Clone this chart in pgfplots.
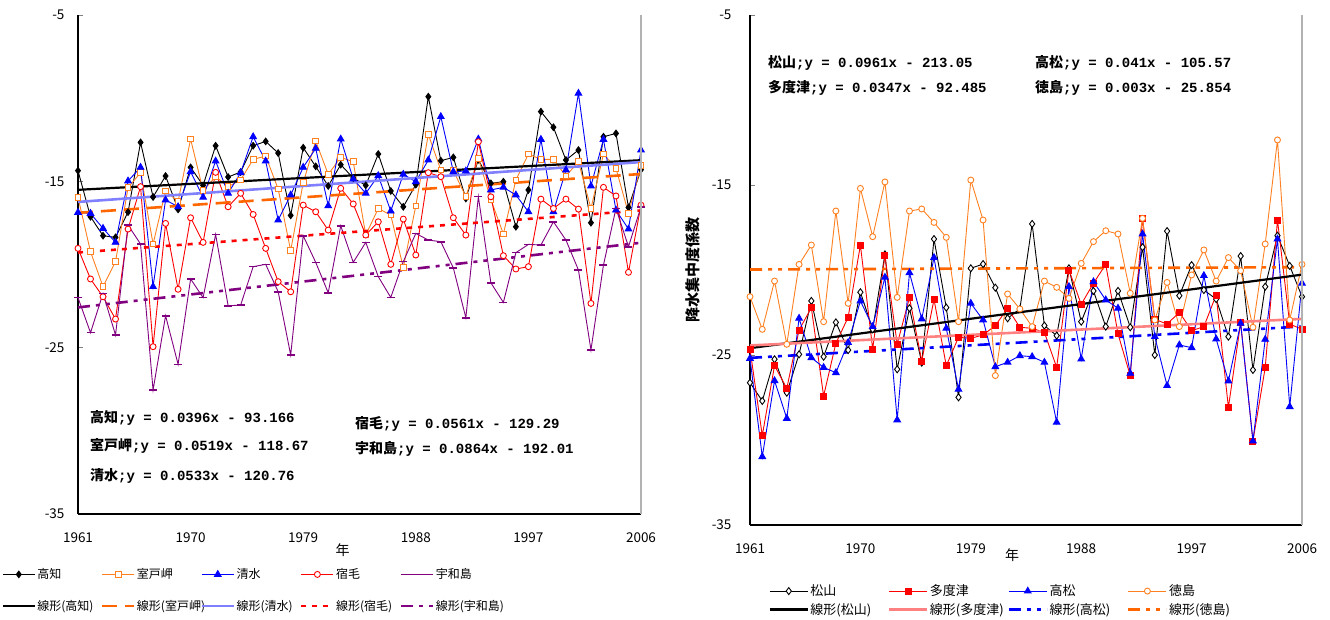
\documentclass[border=0pt]{standalone}
\usepackage{pgfplots}
\pgfplotsset{compat=1.18}
\usepackage{fontspec}
\setmainfont{Noto Sans CJK JP}
\newfontfamily\monof{Liberation Mono}
\definecolor{myorange}{RGB}{255,128,32}
\definecolor{trorange}{RGB}{255,102,0}
\definecolor{mypurple}{RGB}{128,0,128}
\definecolor{lblue}{RGB}{128,128,255}
\definecolor{mypink}{RGB}{255,128,128}
\pgfplotsset{
  common/.style={
    scale only axis, clip=false,
    xmin=1961, xmax=2006, ymin=-35, ymax=-5,
    xtick={1961,1970,1979,1988,1997,2006},
    ytick={-35,-25,-15,-5},
    axis x line*=bottom, axis y line*=left,
    axis line style={-, line width=1.2pt},
    tick align=inside, major tick length=5pt,
    xtick style={draw=none},
    ytick style={line width=0.8pt},
    /pgf/number format/1000 sep={},
    /pgf/number format/assume math mode=true,
    tick label style={font=\fontsize{13.5}{15}\selectfont},
    legend cell align=left,
    legend columns=5,
    after end axis/.code={\draw[gray!60, line width=1.5pt] (rel axis cs:1,0) -- (rel axis cs:1,1);},
  },
  dat/.style={line width=0.9pt, mark options={solid}},
  tr/.style={line width=2.6pt, no marks},
}
\newcommand{\ann}[2]{{\fontsize{14}{16}\selectfont\bfseries #1\monof\bfseries #2}}
\begin{document}
\begin{tikzpicture}
\useasboundingbox (0,0) rectangle (1330pt,619pt);
% ---------------- left ----------------
\begin{axis}[common,
  at={(78pt,105pt)}, anchor=south west, width=563pt, height=499pt,
  yticklabel style={xshift=-10pt},
  xticklabel style={yshift=-15pt},
  xlabel={年}, xlabel style={at={(axis description cs:0.47,-0.072)}, anchor=center, font=\fontsize{14}{16}\selectfont},
  legend image code/.code={\draw[mark repeat=2,mark phase=2,#1] plot coordinates {(0pt,0pt)(16pt,0pt)(32pt,0pt)};},
  legend style={draw=none, fill=none, at={(axis description cs:-0.1359,-0.106)}, anchor=north west,
    font=\fontsize{12}{13}\selectfont, inner sep=0pt, row sep=17pt, nodes={inner sep=1.5pt}},
]
\addplot[dat, black, mark=diamond*, mark size=3.3pt] coordinates {
(1961,-14.36)(1962,-17.13)(1963,-18.27)(1964,-18.37)(1965,-16.85)(1966,-12.66)(1967,-15.94)(1968,-14.68)(1969,-16.69)(1970,-14.16)
(1971,-15.24)(1972,-12.86)(1973,-14.74)(1974,-14.44)(1975,-12.86)(1976,-12.60)(1977,-13.30)(1978,-17.05)(1979,-12.98)(1980,-14.10)
(1981,-15.28)(1982,-14.00)(1983,-14.80)(1984,-15.24)(1985,-13.36)(1986,-15.58)(1987,-16.53)(1988,-15.20)(1989,-9.91)(1990,-13.76)
(1991,-13.56)(1992,-16.03)(1993,-13.70)(1994,-15.12)(1995,-15.02)(1996,-17.73)(1997,-15.52)(1998,-10.81)(1999,-11.75)(2000,-13.72)
(2001,-13.12)(2002,-17.49)(2003,-12.32)(2004,-12.12)(2005,-16.57)(2006,-14.30)};
\addlegendentry{\makebox[62pt][l]{高知}}
\addplot[dat, myorange, mark=square*, mark size=2.8pt, mark options={fill=white}] coordinates {
(1961,-15.96)(1962,-19.23)(1963,-21.33)(1964,-19.83)(1965,-15.38)(1966,-14.48)(1967,-18.77)(1968,-15.58)(1969,-16.22)(1970,-12.46)
(1971,-15.56)(1972,-14.72)(1973,-15.32)(1974,-14.92)(1975,-13.68)(1976,-13.48)(1977,-15.46)(1978,-19.17)(1979,-15.08)(1980,-12.58)
(1981,-14.58)(1982,-13.56)(1983,-13.82)(1984,-18.23)(1985,-16.63)(1986,-17.03)(1987,-20.19)(1988,-16.47)(1989,-12.18)(1990,-14.32)
(1991,-14.35)(1992,-15.92)(1993,-13.62)(1994,-16.09)(1995,-18.17)(1996,-14.92)(1997,-13.36)(1998,-13.68)(1999,-13.68)(2000,-14.68)
(2001,-13.82)(2002,-16.63)(2003,-13.36)(2004,-14.22)(2005,-16.93)(2006,-14.06)};
\addlegendentry{\makebox[62pt][l]{室戸岬}}
\addplot[dat, blue, mark=triangle*, mark size=3.8pt] coordinates {
(1961,-16.87)(1962,-16.93)(1963,-17.83)(1964,-18.67)(1965,-14.98)(1966,-14.16)(1967,-21.33)(1968,-16.12)(1969,-16.53)(1970,-14.42)
(1971,-15.96)(1972,-13.78)(1973,-15.72)(1974,-14.48)(1975,-12.32)(1976,-13.78)(1977,-17.33)(1978,-15.82)(1979,-14.16)(1980,-13.02)
(1981,-16.47)(1982,-12.46)(1983,-14.86)(1984,-15.72)(1985,-14.66)(1986,-16.79)(1987,-14.58)(1988,-15.02)(1989,-13.72)(1990,-11.11)
(1991,-14.42)(1992,-14.38)(1993,-12.46)(1994,-15.52)(1995,-15.36)(1996,-15.82)(1997,-16.83)(1998,-12.48)(1999,-16.83)(2000,-14.32)
(2001,-9.71)(2002,-15.28)(2003,-12.48)(2004,-16.73)(2005,-17.87)(2006,-13.12)};
\addlegendentry{\makebox[62pt][l]{清水}}
\addplot[dat, red, mark=*, mark size=3pt, mark options={fill=white}] coordinates {
(1961,-19.03)(1962,-20.87)(1963,-21.94)(1964,-23.28)(1965,-17.87)(1966,-15.32)(1967,-24.94)(1968,-17.53)(1969,-21.49)(1970,-17.19)
(1971,-18.67)(1972,-14.46)(1973,-16.53)(1974,-15.72)(1975,-16.99)(1976,-19.03)(1977,-21.03)(1978,-21.64)(1979,-16.43)(1980,-16.83)
(1981,-17.93)(1982,-15.42)(1983,-16.36)(1984,-18.23)(1985,-17.43)(1986,-19.99)(1987,-17.27)(1988,-19.43)(1989,-14.48)(1990,-14.72)
(1991,-17.19)(1992,-18.23)(1993,-12.62)(1994,-15.93)(1995,-19.47)(1996,-20.27)(1997,-20.13)(1998,-16.07)(1999,-16.63)(2000,-16.07)
(2001,-16.67)(2002,-22.34)(2003,-15.36)(2004,-15.88)(2005,-20.47)(2006,-16.43)};
\addlegendentry{\makebox[62pt][l]{宿毛}}
\addplot[dat, mypurple, mark=-, mark size=4pt, mark options={line width=1.6pt}] coordinates {
(1961,-21.99)(1962,-24.10)(1963,-21.74)(1964,-24.24)(1965,-17.63)(1966,-18.77)(1967,-27.55)(1968,-23.08)(1969,-26.00)(1970,-20.87)
(1971,-21.99)(1972,-18.19)(1973,-22.48)(1974,-22.44)(1975,-20.13)(1976,-19.99)(1977,-21.64)(1978,-25.44)(1979,-18.27)(1980,-19.87)
(1981,-21.70)(1982,-17.67)(1983,-19.87)(1984,-18.67)(1985,-20.73)(1986,-21.98)(1987,-19.83)(1988,-18.13)(1989,-18.53)(1990,-18.63)
(1991,-20.21)(1992,-23.20)(1993,-15.92)(1994,-21.10)(1995,-22.28)(1996,-19.29)(1997,-18.79)(1998,-18.83)(1999,-17.43)(2000,-18.53)
(2001,-20.33)(2002,-25.14)(2003,-20.03)(2004,-16.63)(2005,-18.93)(2006,-16.53)};
\addlegendentry{\makebox[62pt][l]{宇和島}}
\addplot[tr, black, line width=2.2pt] coordinates {(1961,-15.5104)(2006,-13.7284)};
\addlegendentry{\makebox[62pt][l]{線形(高知)}}
\addplot[tr, trorange, dash pattern=on 15pt off 8pt] coordinates {(1961,-16.8941)(2006,-14.5586)};
\addlegendentry{\makebox[62pt][l]{線形(室戸岬)}}
\addplot[tr, lblue] coordinates {(1961,-16.2387)(2006,-13.8402)};
\addlegendentry{\makebox[62pt][l]{線形(清水)}}
\addplot[tr, red, dash pattern=on 5pt off 6pt] coordinates {(1961,-19.2779)(2006,-16.7534)};
\addlegendentry{\makebox[62pt][l]{線形(宿毛)}}
\addplot[tr, mypurple, dash pattern=on 12pt off 6pt on 4pt off 6pt on 4pt off 6pt] coordinates {(1961,-22.5796)(2006,-18.6916)};
\addlegendentry{\makebox[62pt][l]{線形(宇和島)}}
\node[anchor=west, inner sep=0pt] at (axis cs:1961.96,-29.23) {\ann{高知}{;y = 0.0396x - 93.166}};
\node[anchor=west, inner sep=0pt] at (axis cs:1961.96,-30.91) {\ann{室戸岬}{;y = 0.0519x - 118.67}};
\node[anchor=west, inner sep=0pt] at (axis cs:1961.96,-32.72) {\ann{清水}{;y = 0.0533x - 120.76}};
\node[anchor=west, inner sep=0pt] at (axis cs:1983.14,-29.59) {\ann{宿毛}{;y = 0.0561x - 129.29}};
\node[anchor=west, inner sep=0pt] at (axis cs:1983.14,-31.09) {\ann{宇和島}{;y = 0.0864x - 192.01}};
\end{axis}
% ---------------- right ----------------
\begin{axis}[common,
  at={(750pt,94pt)}, anchor=south west, width=552pt, height=510pt,
  yticklabel style={xshift=-15pt},
  xticklabel style={yshift=-15pt},
  xlabel={年}, xlabel style={at={(axis description cs:0.475,-0.059)}, anchor=center, font=\fontsize{14}{16}\selectfont},
  ylabel={降水集中度係数}, ylabel style={at={(axis description cs:-0.103,0.5)}, anchor=center, rotate=0, font=\fontsize{15}{17}\selectfont\bfseries},
  legend image code/.code={\draw[mark repeat=2,mark phase=2,#1] plot coordinates {(0pt,0pt)(19pt,0pt)(38pt,0pt)};},
  legend columns=4,
  legend style={draw=none, fill=none, at={(axis description cs:0.0335,-0.114)}, anchor=north west,
    font=\fontsize{13}{15}\selectfont, inner sep=0pt, row sep=3pt, nodes={inner sep=1.5pt}},
]
\addplot[dat, black, mark=diamond*, mark size=3.5pt, mark options={fill=white}] coordinates {
(1961,-26.63)(1962,-27.70)(1963,-25.25)(1964,-27.22)(1965,-24.96)(1966,-21.82)(1967,-25.10)(1968,-23.08)(1969,-24.71)(1970,-21.31)
(1971,-23.49)(1972,-19.08)(1973,-25.84)(1974,-22.25)(1975,-25.45)(1976,-18.18)(1977,-22.21)(1978,-27.49)(1979,-19.90)(1980,-19.65)
(1981,-21.04)(1982,-22.84)(1983,-22.29)(1984,-17.29)(1985,-23.27)(1986,-23.86)(1987,-19.90)(1988,-23.04)(1989,-21.23)(1990,-23.33)
(1991,-21.23)(1992,-23.37)(1993,-18.66)(1994,-25.00)(1995,-17.71)(1996,-21.51)(1997,-19.71)(1998,-21.18)(1999,-21.71)(2000,-23.92)
(2001,-19.18)(2002,-25.88)(2003,-20.98)(2004,-17.98)(2005,-19.76)(2006,-21.57)};
\addlegendentry{\makebox[76pt][l]{松山}}
\addplot[dat, red, mark=square*, mark size=3pt] coordinates {
(1961,-24.65)(1962,-29.74)(1963,-25.63)(1964,-26.96)(1965,-23.53)(1966,-22.22)(1967,-27.41)(1968,-24.31)(1969,-22.78)(1970,-18.53)
(1971,-24.65)(1972,-19.16)(1973,-24.35)(1974,-21.63)(1975,-25.35)(1976,-21.73)(1977,-25.63)(1978,-23.96)(1979,-24.02)(1980,-23.82)
(1981,-23.27)(1982,-22.25)(1983,-23.37)(1984,-23.43)(1985,-23.67)(1986,-25.73)(1987,-20.00)(1988,-22.02)(1989,-20.78)(1990,-19.67)
(1991,-23.76)(1992,-26.22)(1993,-16.96)(1994,-22.90)(1995,-23.18)(1996,-22.49)(1997,-23.57)(1998,-23.33)(1999,-21.47)(2000,-28.08)
(2001,-23.10)(2002,-30.06)(2003,-25.75)(2004,-17.06)(2005,-23.18)(2006,-23.49)};
\addlegendentry{\makebox[76pt][l]{多度津}}
\addplot[dat, blue, mark=triangle*, mark size=3.8pt] coordinates {
(1961,-25.20)(1962,-30.98)(1963,-26.51)(1964,-28.73)(1965,-22.84)(1966,-25.16)(1967,-25.73)(1968,-26.04)(1969,-24.27)(1970,-21.82)
(1971,-23.33)(1972,-20.43)(1973,-28.82)(1974,-20.16)(1975,-22.88)(1976,-19.27)(1977,-23.43)(1978,-27.02)(1979,-21.96)(1980,-22.94)
(1981,-25.69)(1982,-25.43)(1983,-25.04)(1984,-25.10)(1985,-25.43)(1986,-28.96)(1987,-20.98)(1988,-25.24)(1989,-20.69)(1990,-21.76)
(1991,-22.25)(1992,-26.08)(1993,-17.88)(1994,-23.92)(1995,-26.80)(1996,-24.41)(1997,-24.57)(1998,-20.33)(1999,-24.06)(2000,-26.53)
(2001,-23.14)(2002,-30.06)(2003,-24.08)(2004,-18.18)(2005,-28.04)(2006,-20.78)};
\addlegendentry{\makebox[76pt][l]{高松}}
\addplot[dat, myorange, mark=*, mark size=3pt, mark options={fill=white}] coordinates {
(1961,-21.57)(1962,-23.49)(1963,-20.65)(1964,-24.37)(1965,-19.67)(1966,-18.53)(1967,-23.04)(1968,-16.53)(1969,-21.96)(1970,-15.20)
(1971,-18.04)(1972,-14.82)(1973,-21.61)(1974,-16.53)(1975,-16.41)(1976,-17.20)(1977,-18.08)(1978,-23.04)(1979,-14.71)(1980,-17.06)
(1981,-26.21)(1982,-21.41)(1983,-22.29)(1984,-23.33)(1985,-20.65)(1986,-21.02)(1987,-21.67)(1988,-19.61)(1989,-18.33)(1990,-17.69)
(1991,-17.88)(1992,-21.37)(1993,-16.96)(1994,-22.94)(1995,-20.73)(1996,-23.33)(1997,-20.29)(1998,-18.82)(1999,-20.65)(2000,-19.27)
(2001,-20.04)(2002,-23.37)(2003,-18.47)(2004,-12.35)(2005,-22.94)(2006,-19.67)};
\addlegendentry{\makebox[76pt][l]{徳島}}
\addplot[tr, black, line width=2.2pt] coordinates {(1961,-24.5979)(2006,-20.2734)};
\addlegendentry{\makebox[76pt][l]{線形(松山)}}
\addplot[tr, mypink] coordinates {(1961,-24.4383)(2006,-22.8768)};
\addlegendentry{\makebox[76pt][l]{線形(多度津)}}
\addplot[tr, blue, dash pattern=on 12pt off 6pt on 4pt off 6pt on 4pt off 6pt] coordinates {(1961,-25.169)(2006,-23.324)};
\addlegendentry{\makebox[76pt][l]{線形(高松)}}
\addplot[tr, trorange, dash pattern=on 12pt off 6pt on 4pt off 6pt on 4pt off 6pt] coordinates {(1961,-19.971)(2006,-19.836)};
\addlegendentry{\makebox[76pt][l]{線形(徳島)}}
\node[anchor=west, inner sep=0pt] at (axis cs:1962.47,-7.82) {\ann{松山}{;y = 0.0961x - 213.05}};
\node[anchor=west, inner sep=0pt] at (axis cs:1962.47,-9.29) {\ann{多度津}{;y = 0.0347x - 92.485}};
\node[anchor=west, inner sep=0pt] at (axis cs:1984.23,-7.82) {\ann{高松}{;y = 0.041x - 105.57}};
\node[anchor=west, inner sep=0pt] at (axis cs:1984.23,-9.29) {\ann{徳島}{;y = 0.003x - 25.854}};
\end{axis}
\end{tikzpicture}
\end{document}
